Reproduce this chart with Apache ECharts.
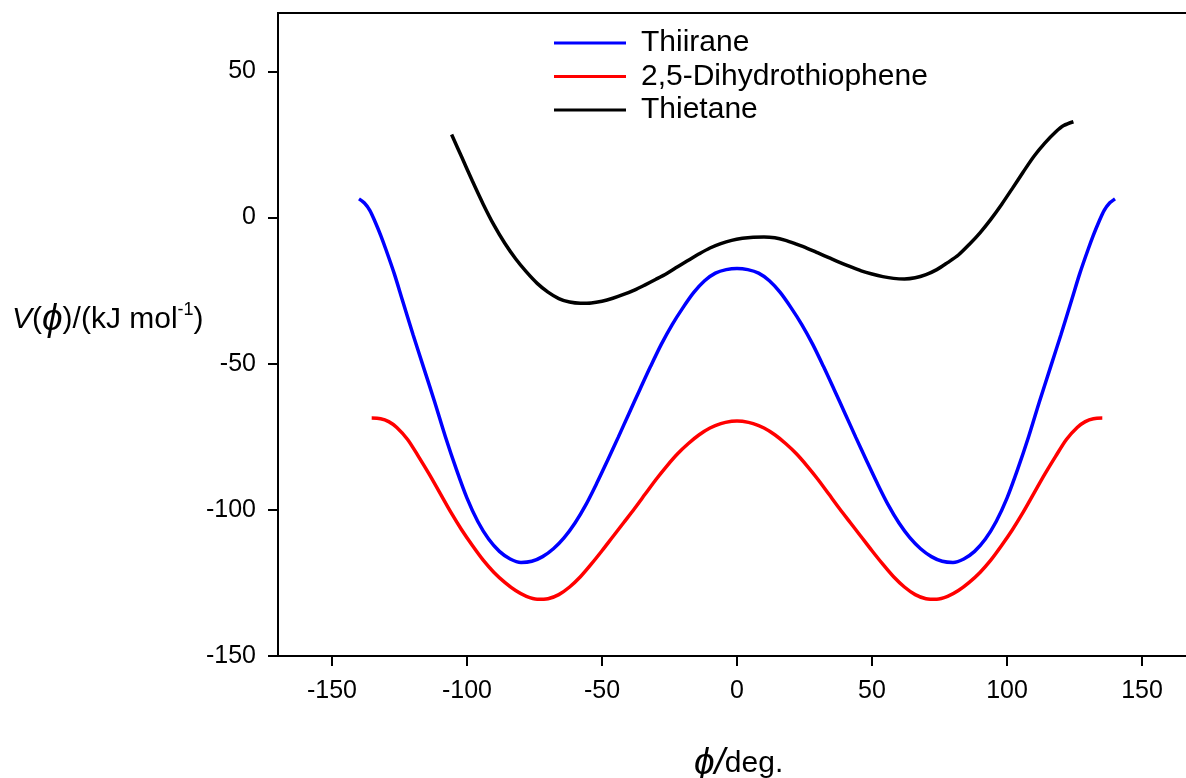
<!DOCTYPE html>
<html>
<head>
<meta charset="utf-8">
<script src="https://cdn.jsdelivr.net/npm/echarts@6/dist/echarts.min.js"></script>
<style>
html,body{margin:0;padding:0;background:#fff;overflow:hidden;}
#chart{width:1196px;height:778px;}
</style>
</head>
<body>
<div id="chart"></div>
<script>
// ---- data ----
const seriesNames = ['Thiirane', '2,5-Dihydrothiophene', 'Thietane'];
const seriesColors = ['#0000ff', '#ff0000', '#000000'];

const thiiraneX = [-140, -138, -136, -134, -132, -130, -127, -124, -120, -116, -112, -108, -104, -100, -96, -92, -88, -84, -80, -76, -72, -68, -64, -60, -56, -52, -48, -44, -40, -36, -32, -28, -24, -20, -16, -12, -8, -4, 0,
  4, 8, 12, 16, 20, 24, 28, 32, 36, 40, 44, 48, 52, 56, 60, 64, 68, 72, 76, 80, 84, 88, 92, 96, 100, 104, 108, 112, 116, 120, 124, 127, 130, 132, 134, 136, 138, 140];
const thiiraneY = [6.4, 5, 2.5, -1.5, -6, -11, -19, -28, -40, -51.5, -63, -75, -86, -96, -104, -110, -114.2, -116.8, -118, -117.6, -116, -113.3, -109.5, -104.5, -98.3, -91, -83.2, -75.2, -67, -58.9, -50.9, -43.3, -36.6, -30.8, -25.6, -21.6, -19, -17.8, -17.4,
  -17.8, -19, -21.6, -25.6, -30.8, -36.6, -43.3, -50.9, -58.9, -67, -75.2, -83.2, -91, -98.3, -104.5, -109.5, -113.3, -116, -117.6, -118, -116.8, -114.2, -110, -104, -96, -86, -75, -63, -51.5, -40, -28, -19, -11, -6, -1.5, 2.5, 5, 6.4];

const dihydroX = [-135.3, -132, -129, -126, -122, -118, -114, -110, -106, -102, -98, -94, -90, -86, -82, -78, -74, -70, -66, -62, -58, -54, -50, -46, -42, -38, -34, -30, -26, -22, -18, -14, -10, -6, -2, 0,
  2, 6, 10, 14, 18, 22, 26, 30, 34, 38, 42, 46, 50, 54, 58, 62, 66, 70, 74, 78, 82, 86, 90, 94, 98, 102, 106, 110, 114, 118, 122, 126, 129, 132, 135.3];
const dihydroY = [-68.6, -68.8, -69.8, -71.8, -75.9, -81.7, -87.8, -94.3, -100.8, -106.8, -112.2, -117.2, -121.4, -124.8, -127.6, -129.6, -130.6, -130.4, -129, -126.4, -122.9, -118.6, -114, -109.2, -104.4, -99.6, -94.6, -89.6, -85, -80.8, -77.3, -74.3, -72, -70.5, -69.7, -69.6,
  -69.7, -70.5, -72, -74.3, -77.3, -80.8, -85, -89.6, -94.6, -99.6, -104.4, -109.2, -114, -118.6, -122.9, -126.4, -129, -130.4, -130.6, -129.6, -127.6, -124.8, -121.4, -117.2, -112.2, -106.8, -100.8, -94.3, -87.8, -81.7, -75.9, -71.8, -69.8, -68.8, -68.6];

const thietaneX = [-105.7, -102, -98, -94, -90, -86, -82, -78, -74, -70, -66, -62, -58, -54, -50, -46, -42, -38, -34, -30, -26, -22, -18, -14, -10, -6, -2, 2, 6, 10, 14, 18, 22, 26, 30, 34, 38, 42, 46, 50, 54, 58, 62, 66, 70, 74, 78, 82, 86, 90, 94, 98, 102, 106, 110, 114, 118, 121, 124.6];
const thietaneY = [28.4, 20.8, 12.5, 4.6, -2.6, -8.8, -14.1, -18.6, -22.5, -25.5, -27.7, -28.9, -29.3, -29.2, -28.6, -27.6, -26.3, -24.8, -23, -21.1, -19.1, -16.8, -14.6, -12.4, -10.4, -8.9, -7.8, -7.1, -6.7, -6.6, -6.9, -7.8, -9.1, -10.5, -12.1, -13.7, -15.3, -16.8, -18.2, -19.3, -20.2, -20.8, -21, -20.6, -19.5, -17.8, -15.4, -12.8, -9.2, -5.2, -0.6, 4.5, 10, 15.6, 21, 25.5, 29.3, 31.5, 32.8];

const xTicks = [-150, -100, -50, 0, 50, 100, 150];
const yTicks = [-150, -100, -50, 0, 50];

// ---- chart ----
const FONT = '"Liberation Sans", Arial, sans-serif';
function pairs(xs, ys) { return xs.map((x, i) => [x, ys[i]]); }
const allX = [thiiraneX, dihydroX, thietaneX];
const allY = [thiiraneY, dihydroY, thietaneY];

const chart = echarts.init(document.getElementById('chart'), null, {renderer: 'canvas'});
const option = {
  animation: false,
  backgroundColor: '#ffffff',
  grid: {left: 278, top: 13, right: 0, bottom: 122, show: false, containLabel: false},
  legend: {
    orient: 'vertical', left: 554, top: 28, padding: 0, itemWidth: 72, itemHeight: 3, itemGap: 3.5,
    icon: 'rect',
    textStyle: {fontFamily: FONT, fontSize: 30, color: '#000', padding: [0, 0, 0, 10]},
    data: seriesNames
  },
  xAxis: {
    type: 'value', min: -170, max: 170,
    axisLine: {show: true, onZero: false, lineStyle: {color: '#000', width: 2}},
    axisTick: {show: true, inside: false, length: 10, lineStyle: {color: '#000', width: 2}, customValues: xTicks},
    axisLabel: {fontFamily: FONT, fontSize: 25, color: '#000', margin: 23, customValues: xTicks},
    splitLine: {show: false}
  },
  yAxis: {
    type: 'value', min: -150, max: 70,
    axisLine: {show: true, onZero: false, lineStyle: {color: '#000', width: 2}},
    axisTick: {show: true, inside: false, length: 10, lineStyle: {color: '#000', width: 2}, customValues: yTicks},
    axisLabel: {fontFamily: FONT, fontSize: 25, color: '#000', margin: 22, customValues: yTicks},
    splitLine: {show: false}
  },
  series: seriesNames.map((n, i) => ({
    name: n, type: 'line', data: pairs(allX[i], allY[i]),
    smooth: 0.3, showSymbol: false, symbol: 'none',
    lineStyle: {color: seriesColors[i], width: 3.5},
    itemStyle: {color: seriesColors[i]}
  })),
  graphic: [
    {type: 'line', shape: {x1: 268, y1: 656, x2: 279, y2: 656}, style: {stroke: '#000', lineWidth: 2}},
    {type: 'line', shape: {x1: 277, y1: 13, x2: 1196, y2: 13}, style: {stroke: '#000', lineWidth: 2}},
    {type: 'text', left: 12, top: 301,
     style: {text: '{i|V}({p|ϕ})/(kJ mol{s|-1})', fill: '#000', font: '30px ' + FONT,
       rich: {
         i: {fontFamily: FONT, fontSize: 30, fontStyle: 'italic', fill: '#000'},
         p: {fontFamily: FONT, fontSize: 37, fontStyle: 'italic', fill: '#000'},
         s: {fontFamily: FONT, fontSize: 18, fill: '#000', verticalAlign: 'top', padding: [0, 0, 14, 0]}
       }}},
    {type: 'text', left: 694, top: 745,
     style: {text: '{p|ϕ/}deg.', fill: '#000', font: '30px ' + FONT,
       rich: {
         p: {fontFamily: FONT, fontSize: 37, fontStyle: 'italic', fill: '#000'}
       }}}
  ]
};
chart.setOption(option);
</script>
</body>
</html>
